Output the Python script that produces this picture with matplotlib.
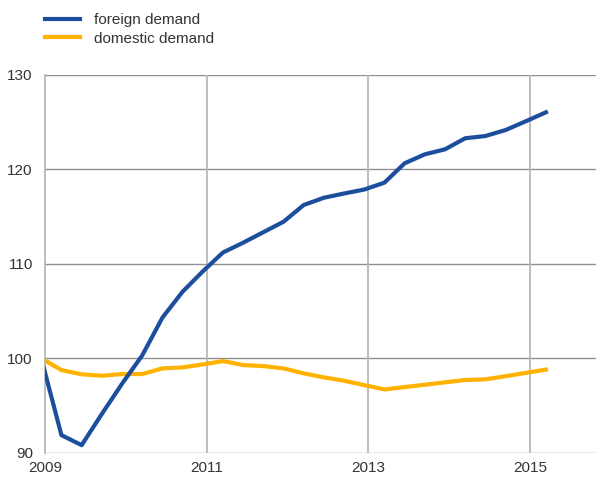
import matplotlib
matplotlib.use("Agg")
import matplotlib.pyplot as plt

plt.rcParams['font.family'] = ['Liberation Sans', 'DejaVu Sans']

# quarterly observations (fractional years, mid-last-month of quarter), 2008Q4 .. 2015Q1
x_start = 2008.95
n_points = 26
dates = [x_start + 0.25 * i for i in range(n_points)]

foreign_demand = [100.0, 91.86, 90.8, 94.1, 97.3, 100.3, 104.3, 107.05, 109.2, 111.2,
                  112.24, 113.35, 114.46, 116.23, 117.0, 117.45, 117.87, 118.6, 120.65,
                  121.6, 122.13, 123.3, 123.54, 124.17, 125.1, 126.05]
domestic_demand = [100.0, 98.75, 98.3, 98.15, 98.33, 98.33, 98.93, 99.03, 99.35, 99.7,
                   99.28, 99.17, 98.93, 98.4, 97.98, 97.62, 97.16, 96.7, 96.95, 97.2,
                   97.45, 97.7, 97.77, 98.1, 98.45, 98.8]

labels = ["foreign demand", "domestic demand"]
x_ticks = [2009, 2011, 2013, 2015]
y_ticks = [90, 100, 110, 120, 130]

W, H = 596, 479
fig = plt.figure(figsize=(W / 100, H / 100), dpi=100)
left, right_px, top_px, bottom_px = 45.3, 596, 75, 452.7
ax = fig.add_axes([left / W, 1 - bottom_px / H, (right_px - left) / W, (bottom_px - top_px) / H])

blue = "#1D4E9E"
orange = "#FFB300"
ax.plot(dates, domestic_demand, color=orange, lw=3, label=labels[1], zorder=3,
        solid_joinstyle='round')
ax.plot(dates, foreign_demand, color=blue, lw=3, label=labels[0], zorder=4,
        solid_joinstyle='round')

ax.set_xlim(2009, 2009 + (right_px - left) / 80.75)
ax.set_ylim(90, 130)
ax.set_xticks(x_ticks)
ax.set_xticklabels([str(t) for t in x_ticks])
ax.set_yticks(y_ticks)

for s in ['top', 'right', 'bottom']:
    ax.spines[s].set_visible(False)
ax.spines['left'].set_color('#b8b8b8')
ax.spines['left'].set_linewidth(1.3)

for yv in y_ticks:
    ax.axhline(yv, color='#909090', lw=1.0, zorder=1)
for xv in x_ticks[1:]:
    ax.axvline(xv, color='#b8b8b8', lw=1.3, zorder=1)

ax.tick_params(axis='both', length=0, labelsize=11, colors='#333333')
ax.tick_params(axis='y', pad=9)
ax.tick_params(axis='x', pad=6)

handles, labs = ax.get_legend_handles_labels()
order = [1, 0]
fig.legend([handles[i] for i in order], [labs[i] for i in order],
           loc='upper left', bbox_to_anchor=(45 / W, 1 - 13 / H),
           frameon=False, fontsize=11, handlelength=2.3, handletextpad=0.9,
           labelspacing=0.3, borderpad=0, borderaxespad=0, labelcolor='#333333')

fig.savefig("out.png", dpi=100)
